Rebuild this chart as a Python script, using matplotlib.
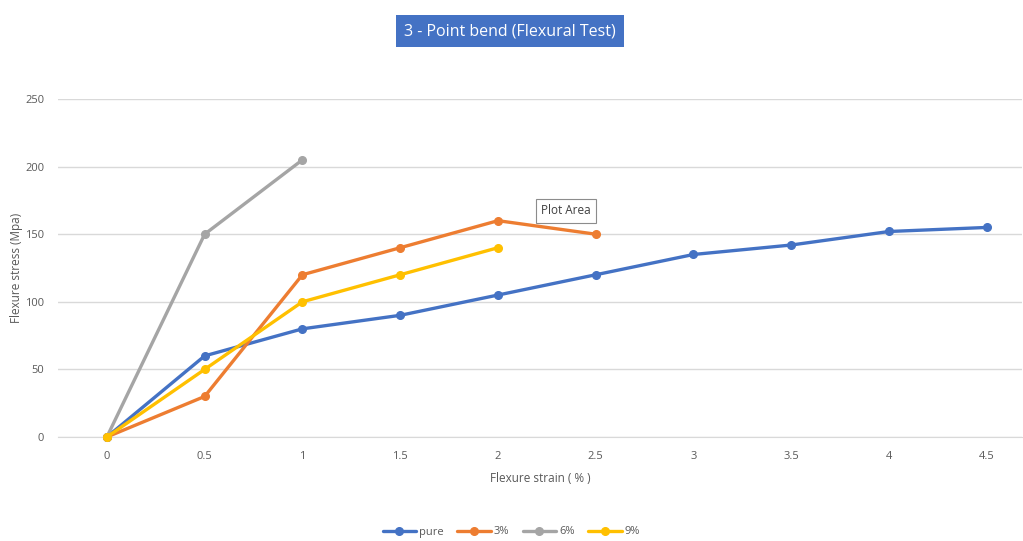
import matplotlib.pyplot as plt

plt.rcParams['font.family'] = ['Open Sans', 'DejaVu Sans']

# 应变 (%) 与各组弯曲应力 (MPa)
strain = [0, 0.5, 1, 1.5, 2, 2.5, 3, 3.5, 4, 4.5]
pure = [0, 60, 80, 90, 105, 120, 135, 142, 152, 155]
p3 = [0, 30, 120, 140, 160, 150]
p6 = [0, 150, 205]
p9 = [0, 50, 100, 120, 140]

series = [
    ('pure', pure, '#4472C4'),
    ('3%', p3, '#ED7D31'),
    ('6%', p6, '#A5A5A5'),
    ('9%', p9, '#FFC000'),
]

fig = plt.figure(figsize=(10.23, 5.41), dpi=100)
ax = fig.add_axes([58 / 1023, 104 / 541, 964 / 1023, 338 / 541])

for name, vals, c in series:
    ax.plot(strain[:len(vals)], vals, color=c, lw=2.4, marker='o', ms=5.5,
            label=name, clip_on=False, solid_capstyle='round', zorder=3)

ax.set_xlim(-0.25, 4.68)
ax.set_ylim(0, 250)
ax.set_xticks(strain)
ax.set_xticklabels(['0', '0.5', '1', '1.5', '2', '2.5', '3', '3.5', '4', '4.5'])
ax.set_yticks([0, 50, 100, 150, 200, 250])
ax.tick_params(length=0, labelsize=8, colors='#595959', pad=10)
ax.grid(axis='y', color='#D9D9D9', lw=1)
ax.set_axisbelow(True)
for s in ax.spines.values():
    s.set_visible(False)
ax.spines['bottom'].set_visible(True)
ax.spines['bottom'].set_color('#D9D9D9')

ax.set_xlabel('Flexure strain ( % )', fontsize=8.5, color='#595959', labelpad=7)
fig.text(17 / 1023, 1 - 268 / 541, 'Flexure stress (Mpa)', rotation=90, ha='center',
         va='center', fontsize=8.5, color='#595959')

# 标题
fig.text(510 / 1023, 1 - 31 / 541, '3 - Point bend (Flexural Test)', ha='center', va='center',
         fontsize=11.5, color='white',
         bbox=dict(boxstyle='square,pad=0.5', fc='#4472C4', ec='none'))

# 悬停提示框
fig.text(566 / 1023, 1 - 211 / 541, 'Plot Area', ha='center', va='center', fontsize=8.5,
         color='#404040',
         bbox=dict(boxstyle='square,pad=0.45', fc='white', ec='#8C8C8C', lw=0.8))

fig.legend(loc='center', bbox_to_anchor=(0.5, 1 - 532 / 541), ncol=4, frameon=False,
           fontsize=8, labelcolor='#595959', handlelength=3, handletextpad=0.3,
           columnspacing=1.2)

fig.savefig('out.png', dpi=100)
